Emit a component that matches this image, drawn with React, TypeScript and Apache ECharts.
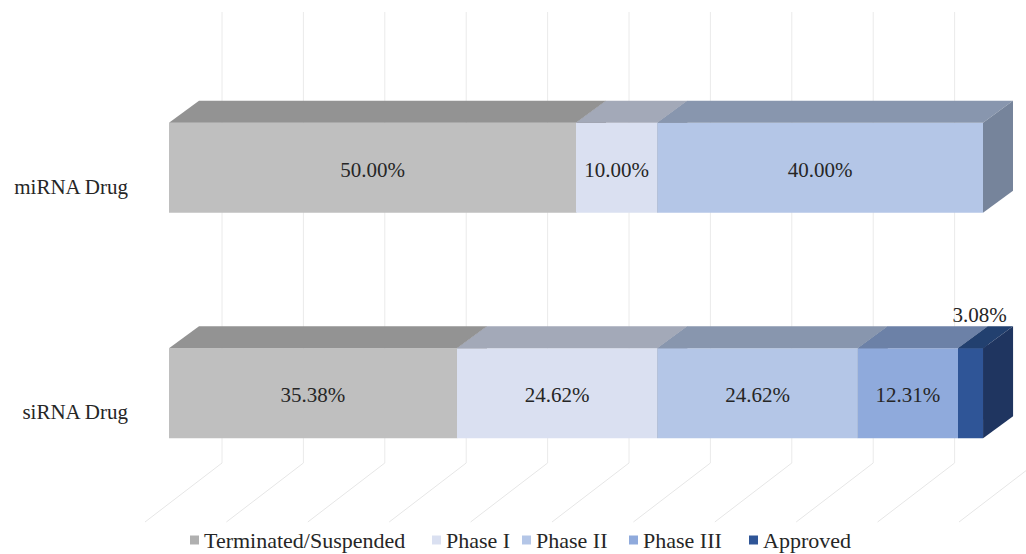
import React, { useEffect, useRef } from "react";
import * as echarts from "echarts";

// Development status shares (%) for each drug class
const categories = ["miRNA Drug", "siRNA Drug"];
const stageNames = ["Terminated/Suspended", "Phase I", "Phase II", "Phase III", "Approved"];
const terminated = [50.0, 35.38];
const phaseI = [10.0, 24.62];
const phaseII = [40.0, 24.62];
const phaseIII = [0, 12.31];
const approved = [0, 3.08];
const gridTicks = [0, 10, 20, 30, 40, 50, 60, 70, 80, 90, 100];

const stageValues = [terminated, phaseI, phaseII, phaseIII, approved];

// front / top / side face shades for the extruded bars
const faces = [
  { front: "#BFBFBF", top: "#939393", side: "#848484", legend: "#B0B0B0" },
  { front: "#DAE0F1", top: "#A3A9B8", side: "#8F97A8", legend: "#DAE0F1" },
  { front: "#B4C6E7", top: "#8896AE", side: "#76849B", legend: "#B4C6E7" },
  { front: "#8FAADC", top: "#6C81A7", side: "#5E7092", legend: "#8FAADC" },
  { front: "#2F5597", top: "#22406F", side: "#1F3560", legend: "#2F5597" },
];

const legendLeft = [190, 432, 522, 629, 749];

const FONT = "Liberation Serif";
const TEXT = "#262626";
const DX = 30; // bar depth offset, x
const DY = 22; // bar depth offset, y

function buildOption() {
  const cum = categories.map(() => 0);
  const segSeries = stageValues.map((vals, k) => {
    const data = vals.map((v, ci) => {
      const start = cum[ci];
      cum[ci] += v;
      return [start, start + v, ci, v];
    });
    const f = faces[k];
    return {
      type: "custom",
      name: stageNames[k],
      itemStyle: { color: f.legend },
      encode: { x: [0, 1], y: 2 },
      data,
      renderItem: (params: any, api: any) => {
        const start = api.value(0);
        const end = api.value(1);
        const cat = api.value(2);
        const val = api.value(3);
        if (!(val > 0)) return { type: "group", children: [] };
        const a = api.coord([start, cat]);
        const b = api.coord([end, cat]);
        const h = api.size([0, 1])[1] * 0.4;
        const top = a[1] - h / 2;
        const bot = a[1] + h / 2;
        const x0 = a[0];
        const x1 = b[0];
        const narrow = x1 - x0 < 45;
        const label = val.toFixed(2) + "%";
        return {
          type: "group",
          children: [
            {
              type: "rect",
              shape: { x: x0, y: top, width: x1 - x0, height: h },
              style: { fill: f.front },
            },
            {
              type: "polygon",
              shape: { points: [[x0, top], [x0 + DX, top - DY], [x1 + DX, top - DY], [x1, top]] },
              style: { fill: f.top },
            },
            {
              type: "polygon",
              shape: { points: [[x1, top], [x1 + DX, top - DY], [x1 + DX, bot - DY], [x1, bot]] },
              style: { fill: f.side },
            },
            {
              type: "text",
              style: {
                text: label,
                x: narrow ? (x0 + x1) / 2 + 9 : (x0 + x1) / 2,
                y: narrow ? top - DY - 11 : a[1] + 2,
                align: "center",
                verticalAlign: "middle",
                fill: TEXT,
                font: "21px " + FONT,
              },
            },
          ],
        };
      },
    };
  });

  // back wall and floor grid lines
  const gridSeries = {
    type: "custom",
    name: "grid",
    silent: true,
    encode: { x: 0, y: 1 },
    data: gridTicks.map((t) => [t, 0]),
    renderItem: (params: any, api: any) => {
      const p = api.coord([api.value(0), 0]);
      const cs = params.coordSys;
      const x = p[0] + 53;
      const yTop = cs.y - 43;
      const yFloor = cs.y + cs.height - 43;
      return {
        type: "group",
        children: [
          {
            type: "line",
            shape: { x1: x, y1: yTop, x2: x, y2: yFloor },
            style: { stroke: "#EAEAEA", lineWidth: 1 },
          },
          {
            type: "line",
            shape: { x1: x, y1: yFloor, x2: x - 77, y2: yFloor + 59 },
            style: { stroke: "#E6E6E6", lineWidth: 1 },
          },
        ],
      };
    },
  };

  return {
    animation: false,
    backgroundColor: "#FFFFFF",
    grid: { left: 169, right: 43, top: 55, height: 451 },
    xAxis: {
      type: "value",
      min: 0,
      max: 100,
      interval: 10,
      show: false,
    },
    yAxis: {
      type: "category",
      data: categories,
      inverse: true,
      axisLine: { show: false },
      axisTick: { show: false },
      splitLine: { show: false },
      axisLabel: {
        margin: 41,
        fontSize: 21,
        fontFamily: FONT,
        color: TEXT,
        verticalAlign: "top",
        lineHeight: 38,
      },
    },
    legend: stageNames.map((n, i) => ({
      data: [n],
      left: legendLeft[i],
      top: 529,
      icon: "rect",
      itemWidth: 9,
      itemHeight: 9,
      itemGap: 0,
      padding: 0,
      selectedMode: false,
      textStyle: { fontSize: 22, fontFamily: FONT, color: TEXT },
    })),
    series: [gridSeries, ...segSeries],
  };
}

export default function App() {
  const ref = useRef<HTMLDivElement>(null);
  useEffect(() => {
    if (!ref.current) return;
    const chart = echarts.init(ref.current, undefined, { renderer: "svg" });
    chart.setOption(buildOption() as any);
    return () => chart.dispose();
  }, []);
  return (
    <div
      ref={ref}
      style={{ position: "fixed", left: 0, top: 0, width: 1026, height: 554, background: "#fff" }}
    />
  );
}
